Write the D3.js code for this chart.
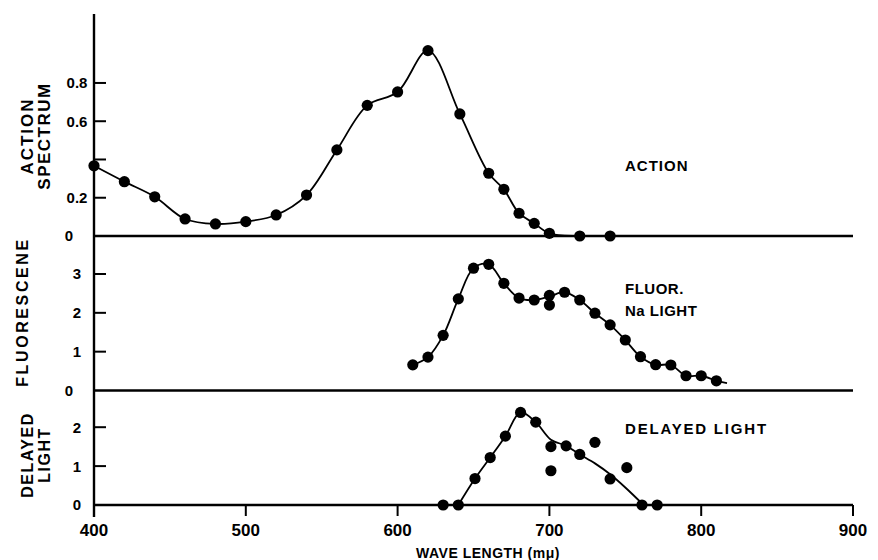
<!DOCTYPE html>
<html>
<head>
<meta charset="utf-8">
<script src="https://cdn.jsdelivr.net/npm/d3@7"></script>
<style>
  html, body { margin: 0; padding: 0; background: #fff; }
  svg { display: block; }
  text { font-family: "Liberation Sans", Arial, Helvetica, sans-serif; fill: #000; }
</style>
</head>
<body>
<svg id="chart" width="878" height="560"></svg>
<script>
// Wavelength axis (mμ)
const xTicks = [400, 500, 600, 700, 800, 900];

// Action spectrum: measured points
const actionWl  = [400, 420, 440, 460, 480, 500, 520, 540, 560, 580, 600, 620, 641, 660, 670, 680, 690, 700, 720, 740];
const actionVal = [0.367, 0.284, 0.205, 0.089, 0.063, 0.075, 0.11, 0.214, 0.45, 0.683, 0.753, 0.969, 0.638, 0.328, 0.244, 0.119, 0.066, 0.014, 0, 0];
const actionTicks = [0.2, 0.4, 0.6, 0.8];
const actionTickLabels = ["0.2", "", "0.6", "0.8"];

// Fluorescence under Na light: measured points
const fluorWl  = [610, 620, 630, 640, 650, 660, 670, 680, 690, 700, 700, 710, 720, 730, 740, 750, 760, 770, 780, 790, 800, 810];
const fluorVal = [0.66, 0.86, 1.42, 2.36, 3.15, 3.25, 2.76, 2.38, 2.33, 2.45, 2.2, 2.53, 2.33, 1.99, 1.69, 1.3, 0.87, 0.665, 0.657, 0.38, 0.38, 0.25];
// Smoothed curve drawn through the fluorescence points
const fluorCurveWl  = [610, 620, 630, 640, 650, 660, 670, 680, 690, 700, 710, 720, 730, 740, 750, 760, 770, 780, 790, 800, 810, 817];
const fluorCurveVal = [0.66, 0.86, 1.42, 2.36, 3.15, 3.25, 2.76, 2.38, 2.33, 2.42, 2.53, 2.33, 1.99, 1.69, 1.3, 0.87, 0.665, 0.657, 0.38, 0.38, 0.25, 0.19];
const fluorTicks = [1, 2, 3];

// Delayed light: measured points
const delayWl  = [630, 640, 651, 661, 671, 681, 691, 701, 701, 711, 720, 730, 740, 751, 761, 771];
const delayVal = [0.0, 0.0, 0.68, 1.22, 1.77, 2.38, 2.13, 1.5, 0.88, 1.52, 1.3, 1.61, 0.67, 0.96, 0.0, 0.0];
// Smoothed curve drawn through the delayed-light points
const delayCurveWl  = [640, 651, 661, 671, 681, 691, 701, 711, 720, 730, 740, 750, 762];
const delayCurveVal = [0.0, 0.68, 1.22, 1.77, 2.38, 2.13, 1.68, 1.52, 1.3, 1.07, 0.79, 0.45, 0.0];
const delayTicks = [1, 2];

const svg = d3.select("#chart");

const x = d3.scaleLinear().domain([400, 900]).range([94, 853]);
const yAction = d3.scaleLinear().domain([0, 1]).range([236, 44.7]);
const yFluor  = d3.scaleLinear().domain([0, 3]).range([390.5, 274]);
const yDelay  = d3.scaleLinear().domain([0, 2]).range([505, 427.2]);

const AX = 2.4; // axis stroke width

// Left vertical axis spanning all three panels
svg.append("line")
  .attr("x1", x(400)).attr("x2", x(400))
  .attr("y1", 14).attr("y2", 517)
  .attr("stroke", "#000").attr("stroke-width", AX);

// Panel baselines
[yAction(0), yFluor(0), yDelay(0)].forEach(y0 => {
  svg.append("line")
    .attr("x1", x(400)).attr("x2", x(900))
    .attr("y1", y0).attr("y2", y0)
    .attr("stroke", "#000").attr("stroke-width", AX);
});

// Inward y ticks for each panel
function yTicks(scale, ticks, labels, labelX) {
  const g = svg.append("g");
  g.selectAll("line").data(ticks).join("line")
    .attr("x1", x(400)).attr("x2", x(400) + 12)
    .attr("y1", d => scale(d)).attr("y2", d => scale(d))
    .attr("stroke", "#000").attr("stroke-width", 2);
  g.selectAll("text").data(ticks).join("text")
    .attr("x", labelX).attr("y", d => scale(d))
    .attr("dy", "0.36em")
    .attr("text-anchor", "middle")
    .style("font-size", "15px").style("font-weight", "bold")
    .text((d, i) => labels[i]);
}
yTicks(yAction, actionTicks, actionTickLabels, 77);
yTicks(yFluor, fluorTicks, fluorTicks.map(String), 77);
yTicks(yDelay, delayTicks, delayTicks.map(String), 77);

// Zero labels
[[yAction(0), 69], [yFluor(0), 69], [yDelay(0), 77]].forEach(([yy, xx]) => {
  svg.append("text").attr("x", xx).attr("y", yy).attr("dy", "0.36em")
    .attr("text-anchor", "middle")
    .style("font-size", "15px").style("font-weight", "bold").text("0");
});

// Wavelength axis ticks and labels
const xg = svg.append("g");
xg.selectAll("line").data(xTicks).join("line")
  .attr("x1", d => x(d)).attr("x2", d => x(d))
  .attr("y1", yDelay(0)).attr("y2", yDelay(0) + 11)
  .attr("stroke", "#000").attr("stroke-width", 2);
xg.selectAll("text").data(xTicks).join("text")
  .attr("x", d => x(d)).attr("y", 536)
  .attr("text-anchor", "middle")
  .style("font-size", "17px").style("font-weight", "bold")
  .text(d => d);

svg.append("text")
  .attr("x", 488).attr("y", 558)
  .attr("text-anchor", "middle")
  .style("font-size", "14px").style("font-weight", "bold")
  .style("letter-spacing", "0.5px")
  .text("WAVE LENGTH (mμ)");

// Rotated panel titles
function sideTitle(lines, cx, cy) {
  const g = svg.append("g").attr("transform", `translate(${cx},${cy}) rotate(-90)`);
  lines.forEach((t, i) => {
    g.append("text")
      .attr("x", 0).attr("y", t.dy)
      .attr("text-anchor", "middle")
      .style("font-size", t.size + "px").style("font-weight", "bold")
      .style("letter-spacing", t.ls + "px")
      .text(t.text);
  });
}
sideTitle([{ text: "ACTION", dy: 0, size: 17, ls: 2 }, { text: "SPECTRUM", dy: 17, size: 17, ls: 1.5 }], 33, 136);
sideTitle([{ text: "FLUORESCENE", dy: 0, size: 16, ls: 2.6 }], 28, 312);
sideTitle([{ text: "DELAYED", dy: 0, size: 16, ls: 1.5 }, { text: "LIGHT", dy: 17, size: 16, ls: 1.5 }], 33, 455);

// Curves and points
function panel(scale, curveWl, curveVal, ptWl, ptVal, curve) {
  const pts = curveWl.map((w, i) => [w, curveVal[i]]);
  const line = d3.line().x(d => x(d[0])).y(d => scale(d[1])).curve(curve);
  svg.append("path").attr("d", line(pts))
    .attr("fill", "none").attr("stroke", "#000").attr("stroke-width", 1.8);
  svg.append("g").selectAll("circle").data(ptWl.map((w, i) => [w, ptVal[i]])).join("circle")
    .attr("cx", d => x(d[0])).attr("cy", d => scale(d[1]))
    .attr("r", 5.6).attr("fill", "#000");
}
panel(yAction, actionWl, actionVal, actionWl, actionVal, d3.curveCatmullRom.alpha(0.5));
panel(yFluor, fluorCurveWl, fluorCurveVal, fluorWl, fluorVal, d3.curveCatmullRom.alpha(0.5));
panel(yDelay, delayCurveWl, delayCurveVal, delayWl, delayVal, d3.curveCatmullRom.alpha(0.5));

// In-panel labels
function label(t, xx, yy, size, ls) {
  svg.append("text").attr("x", xx).attr("y", yy)
    .style("font-size", size + "px").style("font-weight", "bold")
    .style("letter-spacing", ls + "px").text(t);
}
label("ACTION", 625, 171, 15, 1);
label("FLUOR.", 625, 294, 15, 0.5);
label("Na LIGHT", 625, 316, 15, 0.5);
label("DELAYED LIGHT", 625, 434, 15, 1.8);
</script>
</body>
</html>
